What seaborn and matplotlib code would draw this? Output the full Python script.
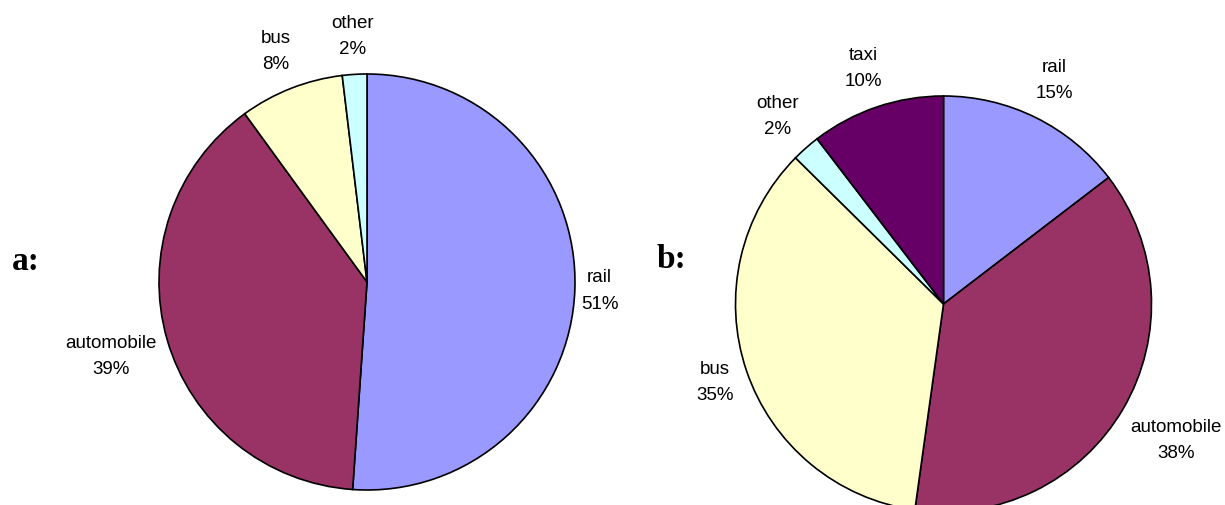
import matplotlib
matplotlib.use("Agg")
import matplotlib.pyplot as plt
import seaborn as sns
import numpy as np

# data (shares, labels show them rounded)
modes_a = ["rail", "automobile", "bus", "other"]
share_a = [51.1, 38.9, 8.1, 1.9]
colors_a = ["#9999FF", "#993366", "#FFFFCC", "#CCFFFF"]

modes_b = ["rail", "automobile", "bus", "other", "taxi"]
share_b = [14.6, 37.6, 35.2, 2.2, 10.4]
colors_b = ["#9999FF", "#993366", "#FFFFCC", "#CCFFFF", "#660066"]

sns.set_style("white")
plt.rcParams["font.family"] = ["Liberation Sans", "DejaVu Sans"]

W, H = 1225, 506
fig = plt.figure(figsize=(W / 100, H / 100), dpi=100)
renderer = fig.canvas.get_renderer()


def draw_pie(cx, cy, r, names, vals, cols):
    ax = fig.add_axes([(cx - r) / W, (H - cy - r) / H, 2 * r / W, 2 * r / H])
    wedges, _ = ax.pie(vals, colors=cols, startangle=90, counterclock=False,
                       wedgeprops={"edgecolor": "black", "linewidth": 1.2})
    ax.set_xlim(-1, 1)
    ax.set_ylim(-1, 1)
    ax.axis("off")
    # Excel-style labels: box just outside the rim
    for w, n, v in zip(wedges, names, vals):
        ang = np.deg2rad((w.theta1 + w.theta2) / 2)
        ux, uy = np.cos(ang), np.sin(ang)
        t = ax.text(0, 0, f"{n}\n{round(v)}%", ha="center", va="center",
                    fontsize=13.5, linespacing=1.7, color="black")
        bb = t.get_window_extent(renderer)
        hw, hh = bb.width / 2, bb.height / 2 + 11
        d = (r + 5 + abs(ux) * hw + abs(uy) * hh) / r
        t.set_position((d * ux, d * uy))
    return ax


draw_pie(367, 283, 208, modes_a, share_a, colors_a)
draw_pie(943.5, 305, 208, modes_b, share_b, colors_b)

fig.text(12 / W, 1 - 270 / H, "a:", fontsize=24, fontweight="bold", color="black",
         family=["Liberation Serif", "DejaVu Serif"], ha="left", va="baseline")
fig.text(657 / W, 1 - 268 / H, "b:", fontsize=24, fontweight="bold", color="black",
         family=["Liberation Serif", "DejaVu Serif"], ha="left", va="baseline")

fig.savefig("out.png", dpi=100)
